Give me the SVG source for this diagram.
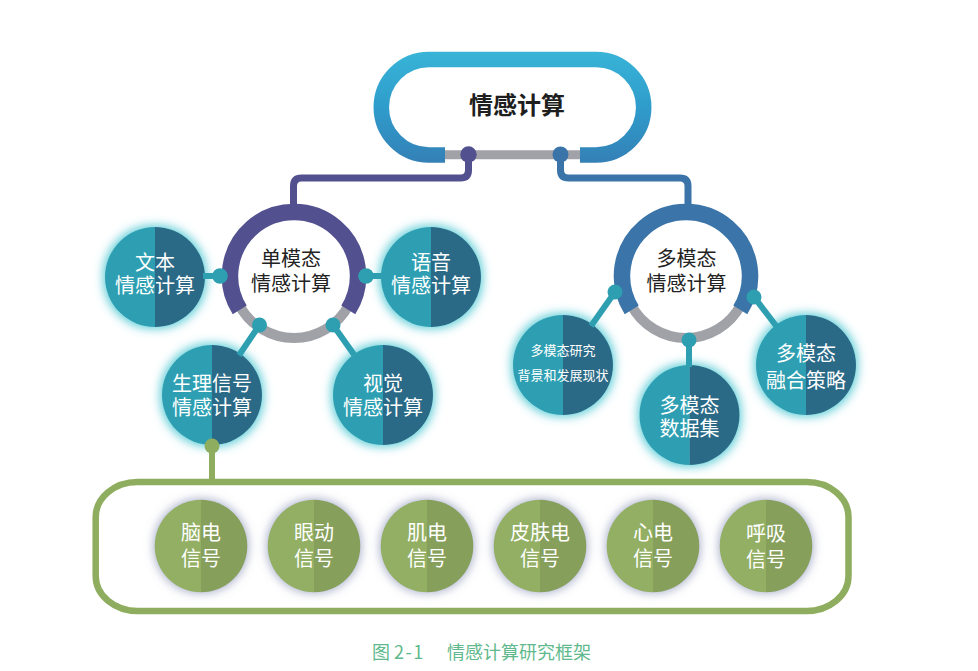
<svg xmlns="http://www.w3.org/2000/svg" xmlns:xlink="http://www.w3.org/1999/xlink" width="978" height="671" viewBox="0 0 978 671">
<defs>
<style>
.cjk{font-family:"Noto Sans CJK SC","Noto Sans",sans-serif;text-anchor:middle}
.wt{fill:#ffffff;font-size:20px}
.wts{fill:#ffffff;font-size:13px}
.dk{fill:#222222;font-size:20px}
.title{fill:#1e1e1e;font-size:24px;font-weight:bold}
.cap{fill:#5fb98d;font-size:18px;text-anchor:start}
.tl{stroke:#2e9fb1;stroke-width:6;fill:none}
.tdot{fill:#2e9fb1}
</style>
<linearGradient id="pillG" gradientUnits="userSpaceOnUse" x1="0" y1="52" x2="0" y2="163">
<stop offset="0" stop-color="#38b4d7"/>
<stop offset="0.5" stop-color="#2f9ccb"/>
<stop offset="1" stop-color="#3480b6"/>
</linearGradient>
<filter id="glowT" x="-40%" y="-40%" width="180%" height="180%">
<feMorphology in="SourceAlpha" operator="dilate" radius="2" result="d"/>
<feGaussianBlur in="d" stdDeviation="5" result="b"/>
<feFlood flood-color="#5ccdd7" flood-opacity="0.95"/>
<feComposite in2="b" operator="in" result="g"/>
<feMerge><feMergeNode in="g"/><feMergeNode in="SourceGraphic"/></feMerge>
</filter>
<filter id="glowG" x="-40%" y="-40%" width="180%" height="180%">
<feMorphology in="SourceAlpha" operator="dilate" radius="1" result="d"/>
<feGaussianBlur in="d" stdDeviation="5" result="b"/>
<feFlood flood-color="#8f96b8" flood-opacity="0.75"/>
<feComposite in2="b" operator="in" result="g"/>
<feMerge><feMergeNode in="g"/><feMergeNode in="SourceGraphic"/></feMerge>
</filter>
<g id="ballT">
<path d="M0 -50 A50 50 0 0 0 0 50 Z" fill="#2f9fb2"/>
<path d="M0 -50 A50 50 0 0 1 0 50 Z" fill="#296b87"/>
</g>
<g id="ballG">
<path d="M0 -46.3 A46.3 46.3 0 0 0 0 46.3 Z" fill="#93af63"/>
<path d="M0 -46.3 A46.3 46.3 0 0 1 0 46.3 Z" fill="#86a05c"/>
</g>
</defs>
<rect x="0" y="0" width="978" height="671" fill="#ffffff"/>

<g id="root">
<path d="M445 155 H429.05 A47.75 47.75 0 0 1 381.3 107.25 A47.75 47.75 0 0 1 429.05 59.5 H595.95 A47.75 47.75 0 0 1 643.7 107.25 A47.75 47.75 0 0 1 595.95 155 H580" fill="none" stroke="url(#pillG)" stroke-width="15.5"/>
<line x1="445" y1="154.7" x2="580" y2="154.7" stroke="#a0a2a8" stroke-width="9"/>
<text class="cjk title" x="517" y="114">情感计算</text>
</g>

<g id="single-modal">
<path d="M348.74 305.11 A62 62 0 0 1 239.26 305.11" fill="none" stroke="#a0a2a8" stroke-width="10"/>
<path d="M239.73 309.91 A64 64 0 1 1 348.27 309.91" fill="none" stroke="#52508f" stroke-width="16.5"/>
<text class="cjk dk"><tspan x="291" y="266">单模态</tspan><tspan x="291" y="291">情感计算</tspan></text>
</g>

<g id="multi-modal">
<path d="M740.74 305.11 A62 62 0 0 1 631.26 305.11" fill="none" stroke="#a0a2a8" stroke-width="10"/>
<path d="M631.73 309.91 A64 64 0 1 1 740.27 309.91" fill="none" stroke="#3b74a8" stroke-width="16.5"/>
<text class="cjk dk"><tspan x="686.5" y="266">多模态</tspan><tspan x="686.5" y="291">情感计算</tspan></text>
</g>

<g id="text-node">
<use xlink:href="#ballT" href="#ballT" x="155" y="277" filter="url(#glowT)"/>
<text class="cjk wt"><tspan x="155" y="269.6">文本</tspan><tspan x="155" y="293">情感计算</tspan></text>
</g>
<g id="speech-node">
<use xlink:href="#ballT" href="#ballT" x="431" y="277" filter="url(#glowT)"/>
<text class="cjk wt"><tspan x="431" y="269.6">语音</tspan><tspan x="431" y="293">情感计算</tspan></text>
</g>
<g id="physio-node">
<use xlink:href="#ballT" href="#ballT" x="212" y="395" filter="url(#glowT)"/>
<text class="cjk wt"><tspan x="212" y="391">生理信号</tspan><tspan x="212" y="414.5">情感计算</tspan></text>
</g>
<g id="vision-node">
<use xlink:href="#ballT" href="#ballT" x="383" y="395" filter="url(#glowT)"/>
<text class="cjk wt"><tspan x="383" y="391">视觉</tspan><tspan x="383" y="414.5">情感计算</tspan></text>
</g>
<g id="background-node">
<use xlink:href="#ballT" href="#ballT" x="563" y="365" filter="url(#glowT)"/>
<text class="cjk wts"><tspan x="563" y="355">多模态研究</tspan><tspan x="563" y="380">背景和发展现状</tspan></text>
</g>
<g id="dataset-node">
<use xlink:href="#ballT" href="#ballT" x="689.5" y="415" filter="url(#glowT)"/>
<text class="cjk wt"><tspan x="689.5" y="412.6">多模态</tspan><tspan x="689.5" y="436">数据集</tspan></text>
</g>
<g id="fusion-node">
<use xlink:href="#ballT" href="#ballT" x="806" y="365" filter="url(#glowT)"/>
<text class="cjk wt"><tspan x="806" y="361">多模态</tspan><tspan x="806" y="387.6">融合策略</tspan></text>
</g>

<g id="signals-box">
<rect x="95.7" y="482" width="752.8" height="129" rx="42" ry="35" fill="none" stroke="#8fad5f" stroke-width="6.5"/>
</g>
<g id="eeg-node">
<use xlink:href="#ballG" href="#ballG" x="201" y="546" filter="url(#glowG)"/>
<text class="cjk wt"><tspan x="201" y="539.5">脑电</tspan><tspan x="201" y="566">信号</tspan></text>
</g>
<g id="eye-node">
<use xlink:href="#ballG" href="#ballG" x="314" y="546" filter="url(#glowG)"/>
<text class="cjk wt"><tspan x="314" y="539.5">眼动</tspan><tspan x="314" y="566">信号</tspan></text>
</g>
<g id="emg-node">
<use xlink:href="#ballG" href="#ballG" x="427" y="546" filter="url(#glowG)"/>
<text class="cjk wt"><tspan x="427" y="539.5">肌电</tspan><tspan x="427" y="566">信号</tspan></text>
</g>
<g id="gsr-node">
<use xlink:href="#ballG" href="#ballG" x="540" y="546" filter="url(#glowG)"/>
<text class="cjk wt"><tspan x="540" y="539.5">皮肤电</tspan><tspan x="540" y="566">信号</tspan></text>
</g>
<g id="ecg-node">
<use xlink:href="#ballG" href="#ballG" x="653" y="546" filter="url(#glowG)"/>
<text class="cjk wt"><tspan x="653" y="539.5">心电</tspan><tspan x="653" y="566">信号</tspan></text>
</g>
<g id="resp-node">
<use xlink:href="#ballG" href="#ballG" x="766" y="546" filter="url(#glowG)"/>
<text class="cjk wt"><tspan x="766" y="541">呼吸</tspan><tspan x="766" y="567">信号</tspan></text>
</g>

<g id="connectors">
<path d="M468.5 154 V170 Q468.5 178 460.5 178 H301.5 Q293.5 178 293.5 186 V205" fill="none" stroke="#52508f" stroke-width="7"/>
<circle cx="468.5" cy="154.5" r="8.2" fill="#52508f"/>
<path d="M560.5 154 V170 Q560.5 178 568.5 178 H680 Q688 178 688 186 V205" fill="none" stroke="#3b74a8" stroke-width="7"/>
<circle cx="560.5" cy="154.5" r="8" fill="#3b74a8"/>
<line class="tl" x1="220" y1="276" x2="203" y2="276"/>
<line class="tl" x1="366" y1="276" x2="383" y2="276"/>
<line class="tl" x1="259.5" y1="325" x2="239" y2="355.2"/>
<line class="tl" x1="333" y1="325" x2="355" y2="356"/>
<line class="tl" x1="615" y1="292" x2="591" y2="326"/>
<line class="tl" x1="754" y1="297" x2="777" y2="327"/>
<line class="tl" x1="689" y1="340" x2="689" y2="367"/>
<circle class="tdot" cx="220" cy="276" r="7.8"/>
<circle class="tdot" cx="366" cy="276" r="7.8"/>
<circle class="tdot" cx="259.5" cy="325" r="7.5"/>
<circle class="tdot" cx="333" cy="325" r="7.5"/>
<circle class="tdot" cx="615" cy="292" r="7.5"/>
<circle class="tdot" cx="754" cy="297" r="7.5"/>
<circle class="tdot" cx="689" cy="340" r="7.5"/>
<line x1="212" y1="446" x2="212" y2="482" stroke="#8fad5f" stroke-width="6"/>
<circle cx="212" cy="446" r="7.5" fill="#8fad5f"/>
</g>

<text class="cjk cap" x="372" y="658.5">图 <tspan letter-spacing="1.5">2-1</tspan><tspan x="447">情感计算研究框架</tspan></text>
</svg>
